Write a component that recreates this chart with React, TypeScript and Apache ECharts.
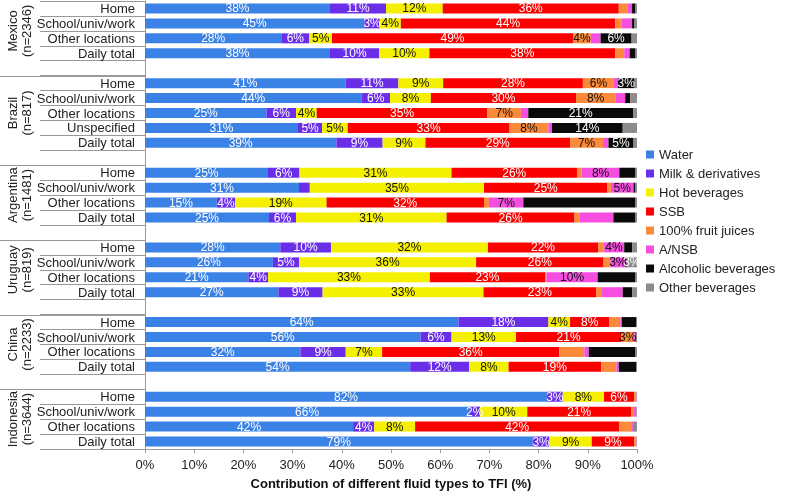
import React, { useEffect, useRef } from 'react';
import * as echarts from 'echarts';

const countries = ['Mexico', 'Brazil', 'Argentina', 'Uruguay', 'China', 'Indonesia'];
const sampleSizes = ['(n=2346)', '(n=817)', '(n=1481)', '(n=819)', '(n=2233)', '(n=3644)'];
const locationsByCountry = [
  ['Home', 'School/univ/work', 'Other locations', 'Daily total'],
  ['Home', 'School/univ/work', 'Other locations', 'Unspecified', 'Daily total'],
  ['Home', 'School/univ/work', 'Other locations', 'Daily total'],
  ['Home', 'School/univ/work', 'Other locations', 'Daily total'],
  ['Home', 'School/univ/work', 'Other locations', 'Daily total'],
  ['Home', 'School/univ/work', 'Other locations', 'Daily total'],
];
const fluidTypes = ['Water', 'Milk & derivatives', 'Hot beverages', 'SSB', '100% fruit juices', 'A/NSB', 'Alcoholic beverages', 'Other beverages'];
const fluidColors = ['#3b82e6', '#6a2ee8', '#f4f000', '#fb0000', '#fb8a3a', '#f64ee0', '#0a0a0a', '#8c8c8c'];
const labelColors = ['#ffffff', '#ffffff', '#111111', '#ffffff', '#111111', '#111111', '#ffffff', '#ffffff'];

// values (%), rows in order: Mexico(4), Brazil(5), Argentina(4), Uruguay(4), China(4), Indonesia(4)
const water = [37.6, 44.6, 27.7, 37.6, 40.8, 44.0, 24.7, 31.1, 38.9, 25.0, 31.3, 14.6, 25.2, 27.5, 26.0, 21.0, 27.1, 63.7, 56.0, 31.6, 53.9, 81.7, 65.9, 42.3, 78.8];
const milk = [11.4, 3.1, 5.7, 10.0, 10.7, 5.8, 6.0, 4.9, 9.4, 6.4, 2.2, 3.7, 5.5, 10.3, 5.3, 4.0, 9.0, 18.3, 6.3, 9.2, 12.0, 3.2, 2.2, 4.3, 3.4];
const hot = [11.5, 4.3, 4.6, 10.2, 9.1, 8.3, 4.2, 5.2, 8.7, 30.9, 35.4, 18.6, 30.6, 31.9, 36.0, 32.9, 32.7, 4.4, 13.1, 7.4, 8.0, 8.4, 9.6, 8.3, 8.6];
const ssb = [35.8, 43.6, 49.0, 37.8, 28.4, 29.5, 34.7, 32.9, 29.4, 25.5, 25.1, 32.0, 26.0, 22.4, 25.9, 23.4, 22.9, 8.0, 21.4, 36.0, 18.8, 6.1, 21.1, 41.5, 8.6];
const fruit = [1.8, 1.3, 3.6, 1.8, 6.3, 8.0, 6.8, 7.9, 6.7, 1.0, 0.7, 1.0, 1.0, 1.1, 1.4, 0.3, 1.2, 2.2, 2.6, 5.1, 3.1, 0.3, 0.6, 2.6, 0.3];
const ansb = [0.9, 2.1, 2.0, 1.1, 0.8, 2.0, 1.5, 0.7, 1.1, 7.6, 4.6, 7.0, 6.9, 4.2, 3.0, 10.4, 4.2, 0.3, 0.3, 0.9, 0.5, 0.2, 0.5, 0.4, 0.2];
const alcoholic = [0.7, 0.5, 6.3, 1.2, 3.4, 1.0, 21.3, 14.4, 5.1, 3.3, 0.3, 22.8, 4.5, 1.6, 0.3, 7.7, 1.9, 3.0, 0.2, 9.5, 3.6, 0.0, 0.0, 0.1, 0.0];
const other = [0.3, 0.5, 1.1, 0.3, 0.5, 1.4, 0.8, 2.9, 0.7, 0.3, 0.4, 0.3, 0.3, 1.0, 2.1, 0.3, 1.0, 0.1, 0.1, 0.3, 0.1, 0.1, 0.1, 0.5, 0.1];

// displayed data labels ('' = none)
const waterLabels = ['38%', '45%', '28%', '38%', '41%', '44%', '25%', '31%', '39%', '25%', '31%', '15%', '25%', '28%', '26%', '21%', '27%', '64%', '56%', '32%', '54%', '82%', '66%', '42%', '79%'];
const milkLabels = ['11%', '3%', '6%', '10%', '11%', '6%', '6%', '5%', '9%', '6%', '', '4%', '6%', '10%', '5%', '4%', '9%', '18%', '6%', '9%', '12%', '3%', '2%', '4%', '3%'];
const hotLabels = ['12%', '4%', '5%', '10%', '9%', '8%', '4%', '5%', '9%', '31%', '35%', '19%', '31%', '32%', '36%', '33%', '33%', '4%', '13%', '7%', '8%', '8%', '10%', '8%', '9%'];
const ssbLabels = ['36%', '44%', '49%', '38%', '28%', '30%', '35%', '33%', '29%', '26%', '25%', '32%', '26%', '22%', '26%', '23%', '23%', '8%', '21%', '36%', '19%', '6%', '21%', '42%', '9%'];
const fruitLabels = ['', '', '4%', '', '6%', '8%', '7%', '8%', '7%', '', '', '', '', '', '', '', '', '', '3%', '', '', '', '', '', ''];
const ansbLabels = ['', '', '', '', '', '', '', '', '', '8%', '5%', '7%', '', '4%', '3%', '10%', '', '', '', '', '', '', '', '', ''];
const alcoholicLabels = ['', '', '6%', '', '3%', '', '21%', '14%', '5%', '', '', '', '', '', '', '', '', '', '', '', '', '', '', '', ''];
const otherLabels = ['', '', '', '', '', '', '', '', '', '', '', '', '', '', '3%', '', '', '', '', '', '', '', '', '', ''];

const seriesValues = [water, milk, hot, ssb, fruit, ansb, alcoholic, other];
const seriesLabels = [waterLabels, milkLabels, hotLabels, ssbLabels, fruitLabels, ansbLabels, alcoholicLabels, otherLabels];

const xTicks = { min: 0, max: 100, interval: 10 };
const xTitle = 'Contribution of different fluid types to TFI (%)';

const FONT = '"Liberation Sans", Arial, sans-serif';

export default function App() {
  const ref = useRef<HTMLDivElement>(null);

  useEffect(() => {
    if (!ref.current) return;
    const chart = echarts.init(ref.current, null, { renderer: 'svg' });

    const categories: string[] = [];
    const rowIndex: number[] = [];
    const groups: { start: number; end: number; blank: number }[] = [];
    locationsByCountry.forEach((locs, ci) => {
      let blank = -1;
      if (ci > 0) {
        blank = categories.length;
        categories.push('');
      }
      const start = categories.length;
      locs.forEach((l) => {
        rowIndex.push(categories.length);
        categories.push(l);
      });
      groups.push({ start, end: categories.length - 1, blank });
    });

    const series = fluidTypes.map((name, si) => {
      const data: any[] = categories.map(() => '-');
      const labs: string[] = categories.map(() => '');
      seriesValues[si].forEach((v, k) => {
        data[rowIndex[k]] = v;
        labs[rowIndex[k]] = seriesLabels[si][k];
      });
      return {
        name,
        type: 'bar',
        stack: 'total',
        barWidth: 10,
        data,
        itemStyle: { color: fluidColors[si] },
        label: {
          show: true,
          position: 'inside',
          color: labelColors[si],
          fontSize: 12,
          fontFamily: FONT,
          formatter: (p: any) => labs[p.dataIndex] || '',
        },
        emphasis: { disabled: true },
      };
    });

    chart.setOption({
      animation: false,
      textStyle: { fontFamily: FONT },
      grid: { left: 145, right: 156, top: 1, bottom: 42, containLabel: false, outerBoundsMode: 'none' },
      legend: {
        orient: 'vertical',
        left: 646,
        top: 148,
        padding: 0,
        icon: 'rect',
        itemWidth: 8,
        itemHeight: 8,
        itemGap: 6,
        data: fluidTypes,
        textStyle: { fontSize: 13, color: '#222', fontFamily: FONT },
      },
      xAxis: {
        type: 'value',
        min: xTicks.min,
        max: xTicks.max,
        interval: xTicks.interval,
        axisLine: { show: true, lineStyle: { color: '#999' } },
        axisTick: { show: true, length: 4, lineStyle: { color: '#999' } },
        splitLine: { show: false },
        axisLabel: { formatter: '{value}%', fontSize: 13, color: '#222', margin: 9, fontFamily: FONT },
        name: xTitle,
        nameLocation: 'middle',
        nameGap: 28,
        nameTextStyle: { fontSize: 13, fontWeight: 'bold', color: '#111', fontFamily: FONT },
      },
      yAxis: {
        type: 'category',
        inverse: true,
        data: categories,
        axisLine: { show: true, lineStyle: { color: '#999' } },
        axisTick: { show: true, length: 105, interval: 0, lineStyle: { color: '#999' } },
        axisLabel: { interval: 0, fontSize: 13, color: '#222', margin: 10, fontFamily: FONT },
      },
      series,
    });

    const yOf = (i: number) => chart.convertToPixel({ yAxisIndex: 0 }, i) as number;
    const x0 = chart.convertToPixel({ xAxisIndex: 0 }, 0) as number;
    const graphic: any[] = [];
    groups.forEach((g, ci) => {
      const cy = (yOf(g.start) + yOf(g.end)) / 2;
      graphic.push({
        type: 'text',
        x: 19,
        y: cy,
        rotation: Math.PI / 2,
        style: {
          text: countries[ci] + '\n' + sampleSizes[ci],
          fontSize: 13,
          fontFamily: FONT,
          fill: '#222',
          align: 'center',
          verticalAlign: 'middle',
          lineHeight: 14,
        },
      });
      if (g.blank >= 0) {
        const y = Math.round((yOf(g.blank) + yOf(g.blank + 1)) / 2) + 0.5;
        graphic.push({
          type: 'line',
          shape: { x1: 0, y1: y, x2: x0, y2: y },
          style: { stroke: '#999', lineWidth: 1 },
        });
      }
    });
    chart.setOption({ graphic });

    return () => chart.dispose();
  }, []);

  return <div ref={ref} style={{ position: 'fixed', left: 0, top: 0, width: 793, height: 491 }} />;
}
